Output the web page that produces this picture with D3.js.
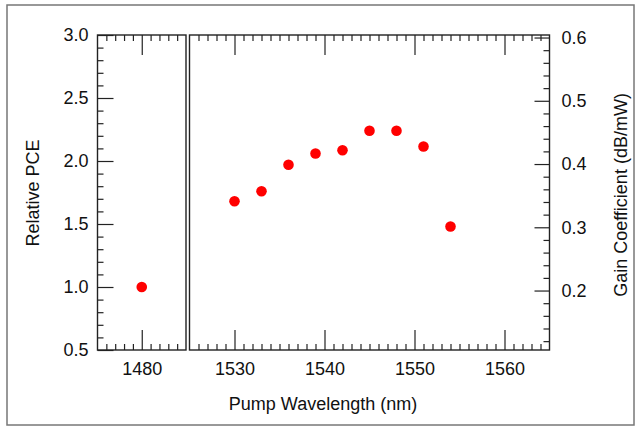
<!DOCTYPE html>
<html><head><meta charset="utf-8">
<script src="https://cdn.jsdelivr.net/npm/d3@7/dist/d3.min.js"></script>
<style>
html,body{margin:0;padding:0;background:#fff;}
svg{display:block;}
text{font-family:"Liberation Sans",Arial,Helvetica,sans-serif;fill:#111;}
</style></head>
<body>
<svg id="chart" width="640" height="428"></svg>
<script>
// Data
const wavelengths = [1480, 1530, 1533, 1536, 1539, 1542, 1545, 1548, 1551, 1554];
const relativePCE = [1.00, 1.68, 1.76, 1.97, 2.06, 2.085, 2.24, 2.24, 2.115, 1.48];
const leftTicks = [0.5, 1.0, 1.5, 2.0, 2.5, 3.0];
const rightTicks = [0.2, 0.3, 0.4, 0.5, 0.6];
const xTicksLeft = [1480];
const xTicksRight = [1530, 1540, 1550, 1560];

(function () {
const svg = d3.select("#chart");
const plotTop = 35, plotBottom = 350;
const xL = d3.scaleLinear().domain([1475, 1485]).range([97.5, 186]);
const xR = d3.scaleLinear().domain([1525, 1565]).range([189.5, 549.5]);
const yL = d3.scaleLinear().domain([0.5, 3.0]).range([plotBottom, plotTop]);
const yR = d3.scaleLinear().domain([0.106, 0.604]).range([plotBottom, plotTop]);

// outer frame
svg.append("rect").attr("x", 7).attr("y", 5).attr("width", 627).attr("height", 420)
  .attr("fill", "none").attr("stroke", "#777").attr("stroke-width", 1.5);

const fs = 18;
function styleAxis(g, labels) {
  g.select(".domain").remove();
  g.selectAll(".tick line").attr("stroke", "#222").attr("stroke-width", 1.2);
  g.selectAll("text").attr("font-size", fs).attr("fill", "#111");
  if (!labels) g.selectAll("text").remove();
}
function range(a, b, s) { const r = []; for (let v = a; v <= b + 1e-9; v += s) r.push(+v.toFixed(4)); return r; }

const minorL = range(1476, 1484, 1).filter(v => v !== 1480);
const minorR = range(1526, 1564, 1).filter(v => v % 10 !== 0);

[[xL, xTicksLeft, minorL], [xR, xTicksRight, minorR]].forEach(([sc, maj, mn]) => {
  svg.append("g").attr("transform", `translate(0,${plotBottom})`)
    .call(d3.axisBottom(sc).tickValues(maj).tickSize(-20).tickPadding(12.5).tickFormat(d3.format("d")))
    .call(g => styleAxis(g, true));
  svg.append("g").attr("transform", `translate(0,${plotBottom})`)
    .call(d3.axisBottom(sc).tickValues(mn).tickSize(-6).tickFormat(""))
    .call(g => styleAxis(g, false));
  svg.append("g").attr("transform", `translate(0,${plotTop})`)
    .call(d3.axisTop(sc).tickValues(maj).tickSize(-20).tickFormat(""))
    .call(g => styleAxis(g, false));
  svg.append("g").attr("transform", `translate(0,${plotTop})`)
    .call(d3.axisTop(sc).tickValues(mn).tickSize(-6).tickFormat(""))
    .call(g => styleAxis(g, false));
});

// left y axis
svg.append("g").attr("transform", `translate(${xL.range()[0]},0)`)
  .call(d3.axisLeft(yL).tickValues(leftTicks).tickSize(-16).tickPadding(9).tickFormat(d3.format(".1f")))
  .call(g => styleAxis(g, true));
svg.append("g").attr("transform", `translate(${xL.range()[0]},0)`)
  .call(d3.axisLeft(yL).tickValues(range(0.6, 2.9, 0.1).filter(v => Math.abs(v*2 - Math.round(v*2)) > 1e-6)).tickSize(-6).tickFormat(""))
  .call(g => styleAxis(g, false));

// right y axis
svg.append("g").attr("transform", `translate(${xR.range()[1]},0)`)
  .call(d3.axisRight(yR).tickValues(rightTicks).tickSize(-15).tickPadding(12).tickFormat(d3.format(".1f")))
  .call(g => styleAxis(g, true));
svg.append("g").attr("transform", `translate(${xR.range()[1]},0)`)
  .call(d3.axisRight(yR).tickValues(range(0.12, 0.58, 0.02).filter(v => Math.abs(v*10 - Math.round(v*10)) > 1e-6)).tickSize(-6).tickFormat(""))
  .call(g => styleAxis(g, false));

// panel frames
[xL, xR].forEach(sc => {
  const [a, b] = sc.range();
  svg.append("rect").attr("x", a).attr("y", plotTop).attr("width", b - a).attr("height", plotBottom - plotTop)
    .attr("fill", "none").attr("stroke", "#222").attr("stroke-width", 1.4);
});

// points
const pts = wavelengths.map((w, i) => ({w, v: relativePCE[i]}));
svg.append("g").selectAll("circle").data(pts).join("circle")
  .attr("cx", d => d.w < 1500 ? xL(d.w) : xR(d.w))
  .attr("cy", d => yL(d.v))
  .attr("r", 5.3)
  .attr("fill", "#ff0000");

// axis titles
svg.append("text").attr("x", 323).attr("y", 410).attr("text-anchor", "middle")
  .attr("font-size", fs).text("Pump Wavelength (nm)");
svg.append("text").attr("transform", "translate(39,193) rotate(-90)").attr("text-anchor", "middle")
  .attr("font-size", fs).text("Relative PCE");
svg.append("text").attr("transform", "translate(627,195) rotate(-90)").attr("text-anchor", "middle")
  .attr("font-size", fs).text("Gain Coefficient (dB/mW)");
})();
</script>
</body></html>
